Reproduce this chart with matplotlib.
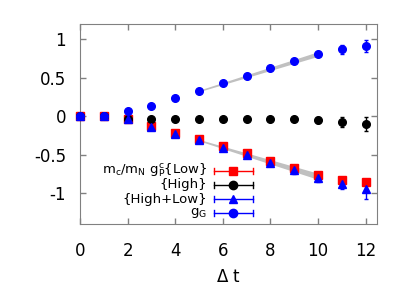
import numpy as np
import matplotlib
matplotlib.use("Agg")
import matplotlib.pyplot as plt

plt.rcParams['font.family'] = ['DejaVu Sans']
plt.rcParams['mathtext.fontset'] = 'dejavusans'

# data
t = np.arange(0, 13)
low = [0, 0, -0.04, -0.13, -0.22, -0.30, -0.39, -0.48, -0.58, -0.67, -0.76, -0.83, -0.86]
low_err = [0, 0, 0.005, 0.005, 0.008, 0.008, 0.01, 0.01, 0.012, 0.015, 0.02, 0.04, 0.05]
high = [0, 0, -0.03, -0.04, -0.04, -0.04, -0.04, -0.04, -0.04, -0.04, -0.05, -0.07, -0.10]
high_err = [0, 0, 0.005, 0.005, 0.005, 0.005, 0.005, 0.006, 0.008, 0.01, 0.04, 0.065, 0.087]
both = [0, 0, -0.03, -0.14, -0.225, -0.31, -0.41, -0.50, -0.61, -0.70, -0.80, -0.88, -0.95]
both_err = [0, 0, 0.005, 0.006, 0.008, 0.01, 0.012, 0.015, 0.02, 0.05, 0.06, 0.065, 0.125]
gg = [0, 0, 0.065, 0.14, 0.24, 0.33, 0.43, 0.53, 0.63, 0.72, 0.81, 0.87, 0.91]
gg_err = [0, 0, 0.005, 0.005, 0.006, 0.008, 0.01, 0.01, 0.012, 0.015, 0.02, 0.056, 0.08]

# fit bands (t = 5 .. 10)
band_t = [5, 10]
gg_band_c = [0.33, 0.81]
gg_band_w = [0.01, 0.03]
low_band_c = [-0.31, -0.78]
low_band_w = [0.01, 0.04]

fig = plt.figure(figsize=(4.15, 2.91), dpi=100)
ax = fig.add_axes([80/415, 1-224/291, 297/415, 200/291])

for c, w in [(gg_band_c, gg_band_w), (low_band_c, low_band_w)]:
    c = np.array(c); w = np.array(w)
    ax.fill_between(band_t, c - w, c + w, color='#c0c0c0', lw=0, zorder=1)

series = [
    (low, low_err, 's', '#ff0000'),
    (high, high_err, 'o', 'black'),
    (both, both_err, '^', '#0000ff'),
    (gg, gg_err, 'o', '#0000ff'),
]
for y, e, m, col in series:
    ax.errorbar(t, y, yerr=e, fmt=m, color=col, ms=5.5, mec=col, mfc=col,
                elinewidth=1, capsize=1.5, capthick=1, zorder=3, clip_on=False)

# gnuplot style legend
labels = [r'm$_\mathregular{c}$/m$_\mathregular{N}$ g$_\mathregular{P}^\mathregular{c}${Low}',
          '{High}', '{High+Low}', r'g$_\mathregular{G}$']
rows = [0.267, 0.197, 0.125, 0.055]
for (y, e, m, col), lab, ry in zip(series, labels, rows):
    ax.text(0.428, ry, lab, transform=ax.transAxes, ha='right', va='center', fontsize=9.5)
    ax.plot([0.451, 0.582], [ry, ry], color=col, lw=1, transform=ax.transAxes)
    for xe in [0.451, 0.582]:
        ax.plot([xe, xe], [ry - 0.015, ry + 0.015], color=col, lw=1, transform=ax.transAxes)
    ax.plot([0.5165], [ry], marker=m, color=col, ms=6, transform=ax.transAxes)

ax.set_xlim(0, 12.48)
ax.set_ylim(-1.4, 1.2)
ax.set_xticks([0, 2, 4, 6, 8, 10, 12])
ax.set_yticks([-1, -0.5, 0, 0.5, 1])
ax.set_yticklabels(['-1', '-0.5', '0', '0.5', '1'])
ax.tick_params(direction='in', top=True, right=True, length=4, width=1,
               color='#808080', labelsize=12)
ax.tick_params(axis='x', pad=13)
ax.tick_params(axis='y', pad=10)
for s in ax.spines.values():
    s.set_color('#808080')
ax.set_xlabel(r'$\Delta$ t', fontsize=12, labelpad=6)

fig.savefig('out.png', dpi=100)
